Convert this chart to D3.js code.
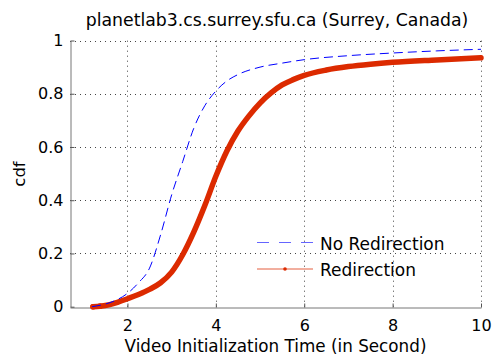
<!DOCTYPE html>
<html lang="en">
<head>
<meta charset="UTF-8">
<title>planetlab3 cdf</title>
<script src="https://d3js.org/d3.v7.min.js"></script>
<style>
  body { margin: 0; background: #fff; }
  svg { display: block; font-family: "DejaVu Sans", sans-serif; }
  .grid line { stroke: #444; stroke-width: 1; stroke-dasharray: 1,4; }
</style>
</head>
<body>
<svg width="492" height="356"></svg>
<script>
const title = "planetlab3.cs.surrey.sfu.ca (Surrey, Canada)";
const xLabel = "Video Initialization Time (in Second)";
const yLabel = "cdf";
const xTicks = [2, 4, 6, 8, 10];
const yTicks = [0, 0.2, 0.4, 0.6, 0.8, 1];
const seriesNames = ["No Redirection", "Redirection"];

// No Redirection (blue dashed)
const noRedirX = [1.2, 1.5, 1.75, 2.0, 2.25, 2.5, 2.75, 3.0, 3.25, 3.5, 3.75, 4.0, 4.25, 4.5, 5.0, 5.5, 6.0, 7.0, 8.0, 9.0, 10.0];
const noRedirY = [0, 0.01, 0.025, 0.05, 0.09, 0.145, 0.27, 0.42, 0.545, 0.67, 0.755, 0.81, 0.848, 0.872, 0.9, 0.915, 0.928, 0.943, 0.953, 0.961, 0.967];

// Redirection (red)
const redirX = [1.22, 1.38, 1.6, 1.8, 2.0, 2.25, 2.5, 2.75, 3.0, 3.25, 3.5, 3.75, 4.0, 4.25, 4.5, 4.75, 5.0, 5.25, 5.5, 5.75, 6.0, 6.5, 7.0, 7.5, 8.0, 9.0, 10.0];
const redirY = [0, 0.002, 0.008, 0.018, 0.03, 0.046, 0.065, 0.09, 0.13, 0.195, 0.28, 0.38, 0.49, 0.585, 0.66, 0.717, 0.765, 0.803, 0.833, 0.853, 0.869, 0.889, 0.902, 0.911, 0.918, 0.927, 0.935];

const svg = d3.select("svg");
const x = d3.scaleLinear().domain([0.7, 10]).range([70, 481]);
const y = d3.scaleLinear().domain([0, 1]).range([306.7, 40.5]);

// grid
const grid = svg.append("g").attr("class", "grid");
grid.selectAll(".gx").data(xTicks).join("line")
  .attr("x1", d => Math.round(x(d)) + 0.5).attr("x2", d => Math.round(x(d)) + 0.5)
  .attr("y1", y(0)).attr("y2", y(1));
grid.selectAll(".gy").data(yTicks.filter(d => d > 0)).join("line")
  .attr("x1", x(0.7)).attr("x2", x(10))
  .attr("y1", d => Math.round(y(d)) + 0.5).attr("y2", d => Math.round(y(d)) + 0.5);

// axes
const xAxis = d3.axisBottom(x).tickValues(xTicks).tickSizeInner(-4).tickSizeOuter(0).tickPadding(12);
const yAxis = d3.axisLeft(y).tickValues(yTicks).tickSizeInner(-4).tickSizeOuter(0).tickPadding(7)
  .tickFormat(d => d3.format("~g")(d));

const gx = svg.append("g").attr("transform", `translate(0,${Math.round(y(0)) + 0.5})`).call(xAxis);
const gy = svg.append("g").attr("transform", `translate(${Math.round(x(0.7)) + 0.5},0)`).call(yAxis);
[gx, gy].forEach(g => {
  g.select(".domain").attr("stroke", "#777");
  g.selectAll(".tick line").attr("stroke", "#555");
  g.selectAll("text").attr("fill", "#000").attr("font-size", 16).attr("font-family", "DejaVu Sans");
});

// curves
const line = d3.line().x(d => x(d[0])).y(d => y(d[1])).curve(d3.curveMonotoneX);
const blueData = d3.zip(noRedirX, noRedirY);
const redData = d3.zip(redirX, redirY);

svg.append("path").datum(redData)
  .attr("d", line).attr("fill", "none")
  .attr("stroke", "#dc2a00").attr("stroke-width", 5.5).attr("stroke-linecap", "round");
svg.selectAll(".rdot").data(redData.slice(0, 2)).join("circle")
  .attr("cx", d => x(d[0])).attr("cy", d => y(d[1])).attr("r", 2.8).attr("fill", "#dc2a00");

svg.append("path").datum(blueData)
  .attr("d", line).attr("fill", "none")
  .attr("stroke", "#0000ff").attr("stroke-width", 1).attr("stroke-dasharray", "9,5");

// legend
const lg = svg.append("g");
lg.append("line").attr("x1", 257).attr("x2", 313).attr("y1", 242.5).attr("y2", 242.5)
  .attr("stroke", "#0000ff").attr("stroke-width", 1).attr("stroke-dasharray", "12,10").attr("opacity", 0.6);
lg.append("text").attr("x", 320).attr("y", 249.5).attr("font-size", 17).text(seriesNames[0]);
lg.append("line").attr("x1", 257).attr("x2", 313).attr("y1", 269).attr("y2", 269)
  .attr("stroke", "#dc2a00").attr("stroke-width", 1).attr("opacity", 0.75);
lg.append("circle").attr("cx", 285).attr("cy", 269).attr("r", 1.8).attr("fill", "#dc2a00");
lg.append("text").attr("x", 320).attr("y", 276.3).attr("font-size", 17).text(seriesNames[1]);

// labels
svg.append("text").attr("x", 277).attr("y", 26).attr("text-anchor", "middle")
  .attr("font-size", 17.3).text(title);
svg.append("text").attr("x", 275.5).attr("y", 351.5).attr("text-anchor", "middle")
  .attr("font-size", 16.8).text(xLabel);
svg.append("text").attr("transform", "translate(25,174) rotate(-90)").attr("text-anchor", "middle")
  .attr("font-size", 16.5).text(yLabel);
</script>
</body>
</html>
